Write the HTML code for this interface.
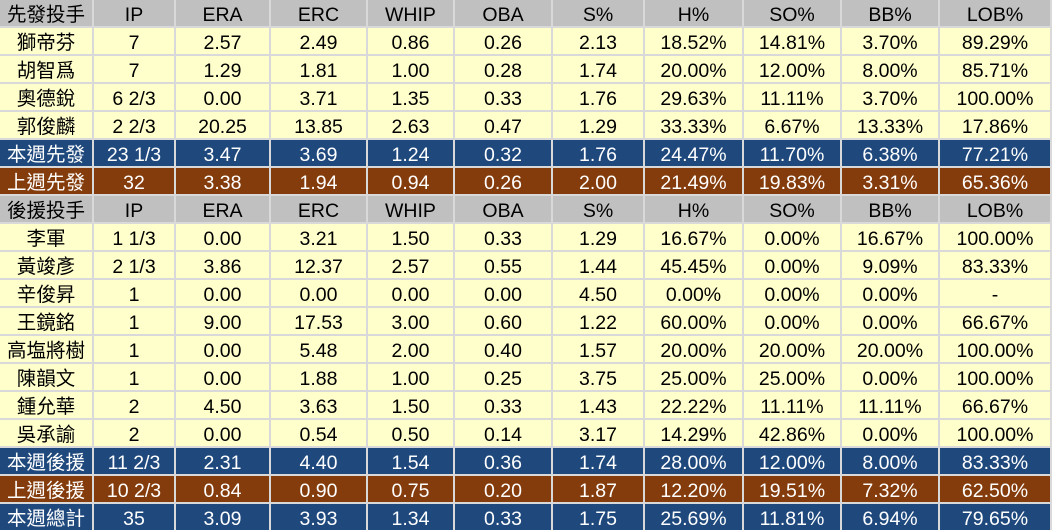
<!DOCTYPE html>
<html><head><meta charset="utf-8"><style>
html,body{margin:0;padding:0;}
body{width:1052px;height:530px;background:#d9d9d9;overflow:hidden;}
.g{display:grid;grid-template-columns:92px 80px 93px 95px 85px 96px 90px 97px 96px 96px 110px;grid-auto-rows:26px;gap:2px;width:1050px;}
.g div{font-family:"Liberation Sans","Noto Sans CJK TC",sans-serif;font-size:19.5px;line-height:30px;height:26px;overflow:hidden;text-align:center;color:#000;white-space:nowrap;}
.h{background:#c0c0c0;}
.y{background:#ffffcc;}
.b{background:#1f497d;color:#fff!important;}
.r{background:#843c0c;color:#fff!important;}
</style></head><body><div class="g">
<div class="h">先發投手</div><div class="h">IP</div><div class="h">ERA</div><div class="h">ERC</div><div class="h">WHIP</div><div class="h">OBA</div><div class="h">S%</div><div class="h">H%</div><div class="h">SO%</div><div class="h">BB%</div><div class="h">LOB%</div>
<div class="y">獅帝芬</div><div class="y">7</div><div class="y">2.57</div><div class="y">2.49</div><div class="y">0.86</div><div class="y">0.26</div><div class="y">2.13</div><div class="y">18.52%</div><div class="y">14.81%</div><div class="y">3.70%</div><div class="y">89.29%</div>
<div class="y">胡智爲</div><div class="y">7</div><div class="y">1.29</div><div class="y">1.81</div><div class="y">1.00</div><div class="y">0.28</div><div class="y">1.74</div><div class="y">20.00%</div><div class="y">12.00%</div><div class="y">8.00%</div><div class="y">85.71%</div>
<div class="y">奧德銳</div><div class="y">6 2/3</div><div class="y">0.00</div><div class="y">3.71</div><div class="y">1.35</div><div class="y">0.33</div><div class="y">1.76</div><div class="y">29.63%</div><div class="y">11.11%</div><div class="y">3.70%</div><div class="y">100.00%</div>
<div class="y">郭俊麟</div><div class="y">2 2/3</div><div class="y">20.25</div><div class="y">13.85</div><div class="y">2.63</div><div class="y">0.47</div><div class="y">1.29</div><div class="y">33.33%</div><div class="y">6.67%</div><div class="y">13.33%</div><div class="y">17.86%</div>
<div class="b">本週先發</div><div class="b">23 1/3</div><div class="b">3.47</div><div class="b">3.69</div><div class="b">1.24</div><div class="b">0.32</div><div class="b">1.76</div><div class="b">24.47%</div><div class="b">11.70%</div><div class="b">6.38%</div><div class="b">77.21%</div>
<div class="r">上週先發</div><div class="r">32</div><div class="r">3.38</div><div class="r">1.94</div><div class="r">0.94</div><div class="r">0.26</div><div class="r">2.00</div><div class="r">21.49%</div><div class="r">19.83%</div><div class="r">3.31%</div><div class="r">65.36%</div>
<div class="h">後援投手</div><div class="h">IP</div><div class="h">ERA</div><div class="h">ERC</div><div class="h">WHIP</div><div class="h">OBA</div><div class="h">S%</div><div class="h">H%</div><div class="h">SO%</div><div class="h">BB%</div><div class="h">LOB%</div>
<div class="y">李軍</div><div class="y">1 1/3</div><div class="y">0.00</div><div class="y">3.21</div><div class="y">1.50</div><div class="y">0.33</div><div class="y">1.29</div><div class="y">16.67%</div><div class="y">0.00%</div><div class="y">16.67%</div><div class="y">100.00%</div>
<div class="y">黃竣彥</div><div class="y">2 1/3</div><div class="y">3.86</div><div class="y">12.37</div><div class="y">2.57</div><div class="y">0.55</div><div class="y">1.44</div><div class="y">45.45%</div><div class="y">0.00%</div><div class="y">9.09%</div><div class="y">83.33%</div>
<div class="y">辛俊昇</div><div class="y">1</div><div class="y">0.00</div><div class="y">0.00</div><div class="y">0.00</div><div class="y">0.00</div><div class="y">4.50</div><div class="y">0.00%</div><div class="y">0.00%</div><div class="y">0.00%</div><div class="y">-</div>
<div class="y">王鏡銘</div><div class="y">1</div><div class="y">9.00</div><div class="y">17.53</div><div class="y">3.00</div><div class="y">0.60</div><div class="y">1.22</div><div class="y">60.00%</div><div class="y">0.00%</div><div class="y">0.00%</div><div class="y">66.67%</div>
<div class="y">高塩將樹</div><div class="y">1</div><div class="y">0.00</div><div class="y">5.48</div><div class="y">2.00</div><div class="y">0.40</div><div class="y">1.57</div><div class="y">20.00%</div><div class="y">20.00%</div><div class="y">20.00%</div><div class="y">100.00%</div>
<div class="y">陳韻文</div><div class="y">1</div><div class="y">0.00</div><div class="y">1.88</div><div class="y">1.00</div><div class="y">0.25</div><div class="y">3.75</div><div class="y">25.00%</div><div class="y">25.00%</div><div class="y">0.00%</div><div class="y">100.00%</div>
<div class="y">鍾允華</div><div class="y">2</div><div class="y">4.50</div><div class="y">3.63</div><div class="y">1.50</div><div class="y">0.33</div><div class="y">1.43</div><div class="y">22.22%</div><div class="y">11.11%</div><div class="y">11.11%</div><div class="y">66.67%</div>
<div class="y">吳承諭</div><div class="y">2</div><div class="y">0.00</div><div class="y">0.54</div><div class="y">0.50</div><div class="y">0.14</div><div class="y">3.17</div><div class="y">14.29%</div><div class="y">42.86%</div><div class="y">0.00%</div><div class="y">100.00%</div>
<div class="b">本週後援</div><div class="b">11 2/3</div><div class="b">2.31</div><div class="b">4.40</div><div class="b">1.54</div><div class="b">0.36</div><div class="b">1.74</div><div class="b">28.00%</div><div class="b">12.00%</div><div class="b">8.00%</div><div class="b">83.33%</div>
<div class="r">上週後援</div><div class="r">10 2/3</div><div class="r">0.84</div><div class="r">0.90</div><div class="r">0.75</div><div class="r">0.20</div><div class="r">1.87</div><div class="r">12.20%</div><div class="r">19.51%</div><div class="r">7.32%</div><div class="r">62.50%</div>
<div class="b">本週總計</div><div class="b">35</div><div class="b">3.09</div><div class="b">3.93</div><div class="b">1.34</div><div class="b">0.33</div><div class="b">1.75</div><div class="b">25.69%</div><div class="b">11.81%</div><div class="b">6.94%</div><div class="b">79.65%</div>
</div></body></html>
